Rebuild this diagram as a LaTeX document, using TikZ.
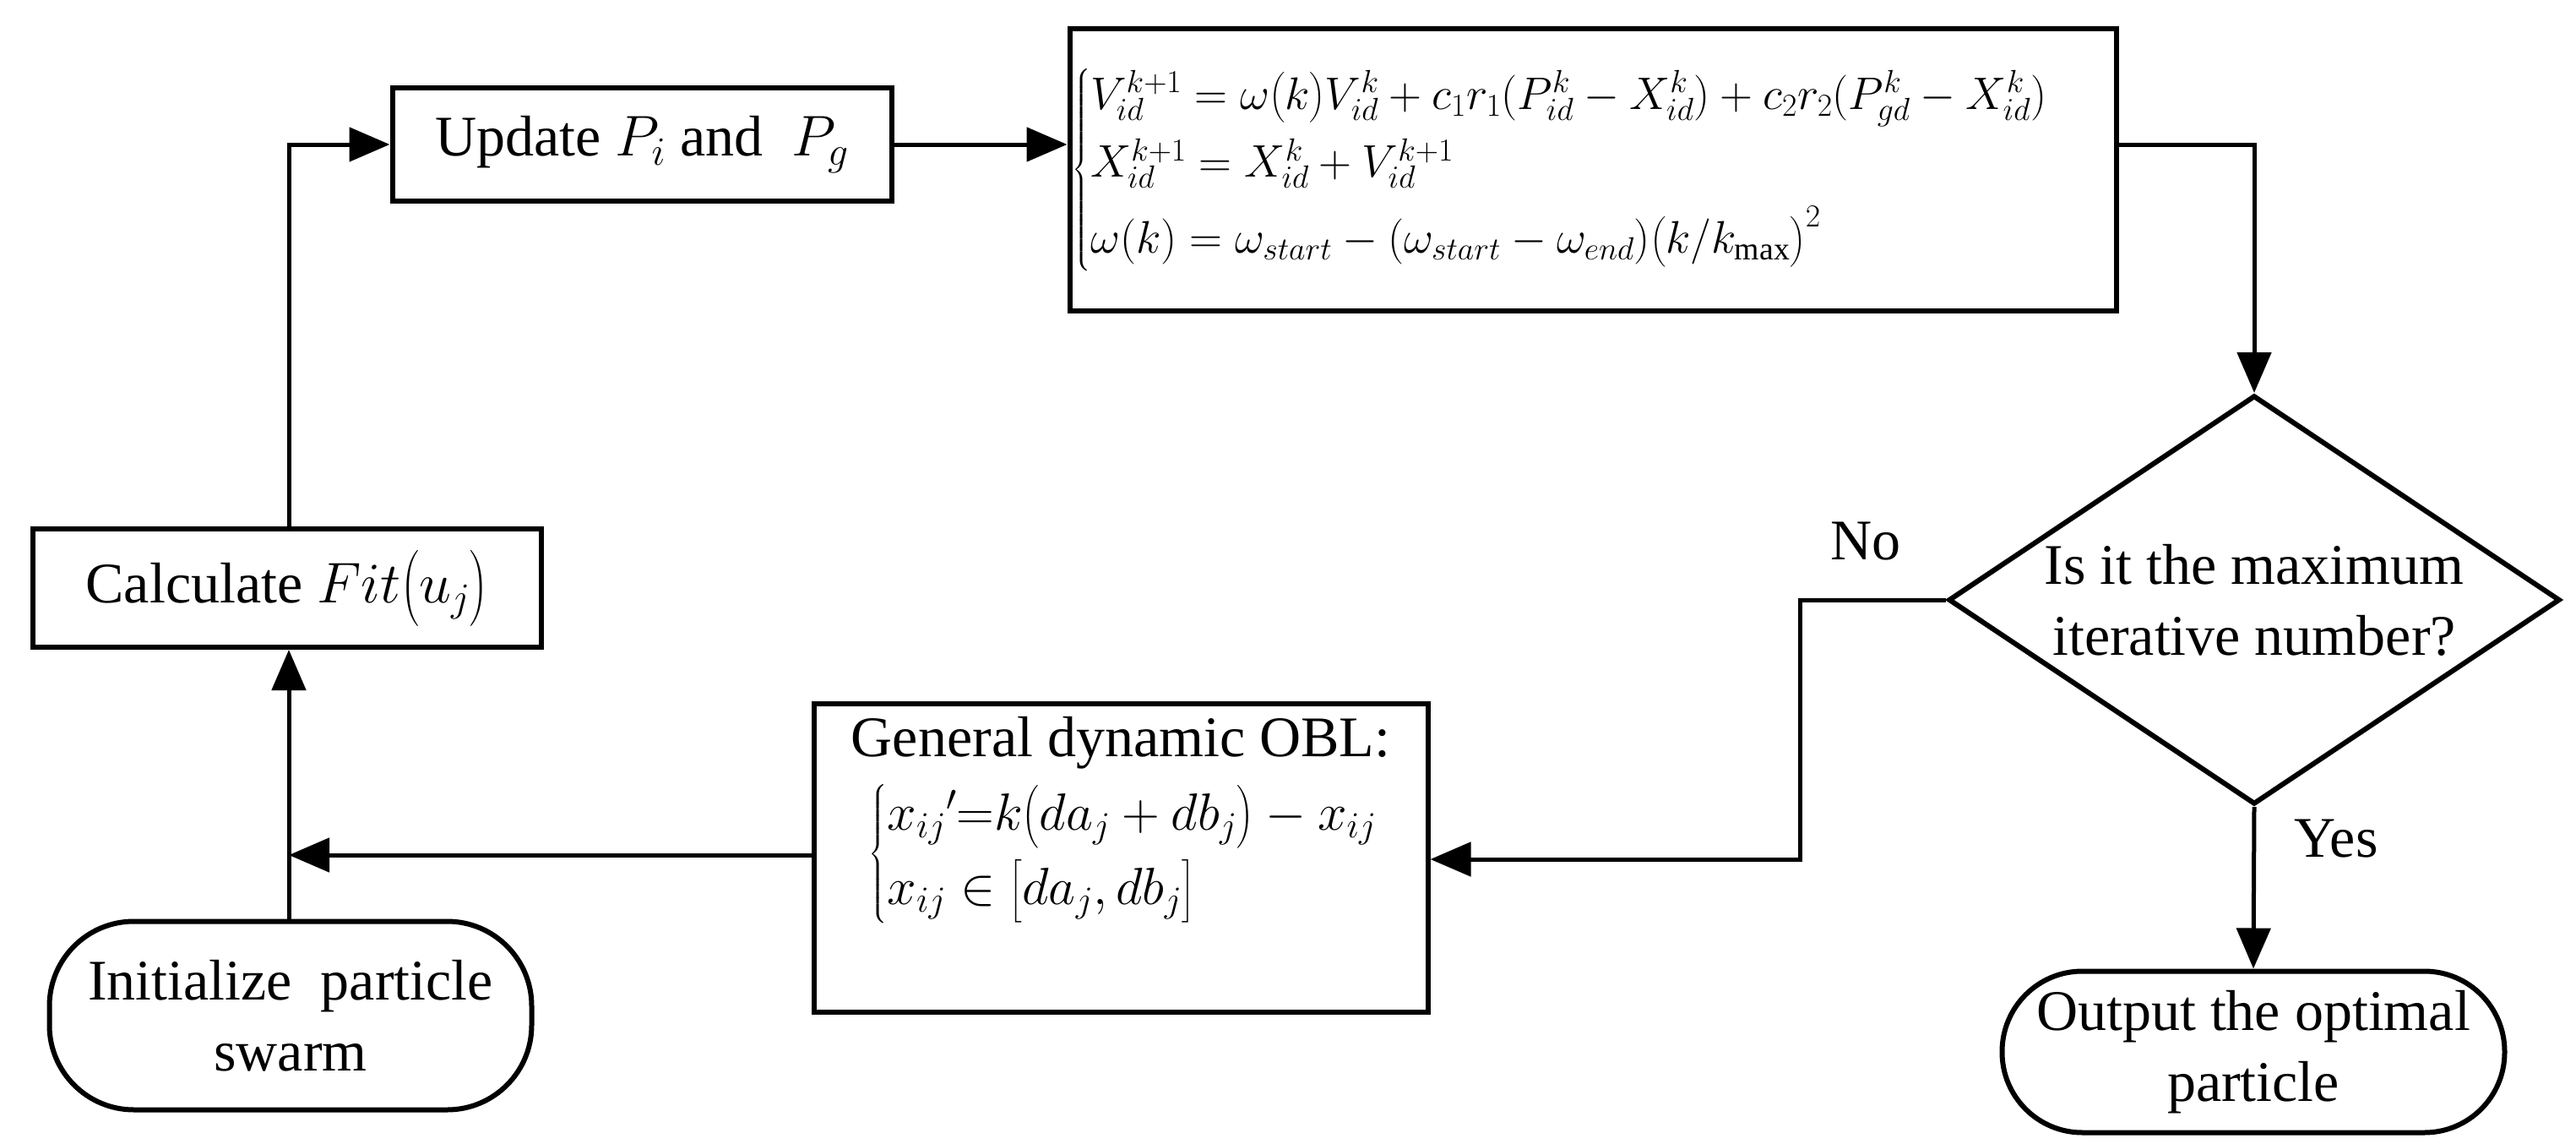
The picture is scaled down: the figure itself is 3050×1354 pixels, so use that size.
\RequirePackage{fix-cm}
\documentclass[tikz,border=0pt]{standalone}
\usepackage{amsmath}
\usepackage{fontspec}
\setmainfont{Liberation Serif}
\usetikzlibrary{arrows.meta,shapes.geometric}
\begin{document}
\begin{tikzpicture}[x=1pt,y=-1pt,
  box/.style={draw,line width=6pt,rectangle,inner sep=0pt,align=center},
  term/.style={box,rounded corners=95pt},
  arr/.style={line width=5pt,-{Triangle[length=48pt,width=40pt]}},
  txt/.style={font=\fontsize{68}{84}\selectfont}]
\useasboundingbox (0,0) rectangle (3050,1354);
\node[box,txt,minimum width=591pt,minimum height=134pt] (up) at (760,171) {Update $P_i$ and\ \ $P_g$};
\node[box,minimum width=1239pt,minimum height=333pt] (eq) at (1886,201) {};
\node[anchor=west,font=\fontsize{54}{62}\selectfont] at ([xshift=2pt]eq.west) {$\left\{\begin{array}{@{}l@{}}
V_{id}^{k+1}=\omega\bigl(k\bigr)V_{id}^{k}+c_1r_1(P_{id}^k-X_{id}^k)+c_2r_2(P_{gd}^k-X_{id}^k)\\[16pt]
X_{id}^{k+1}=X_{id}^{k}+V_{id}^{k+1}\\[16pt]
\omega(k)=\omega_{start}-(\omega_{start}-\omega_{end})\bigl(k/k_{\max}\bigr)^2
\end{array}\right.$};
\node[draw,line width=6pt,diamond,minimum width=724pt,minimum height=484pt,inner sep=0pt] (dia) at (2669,710) {};
\node[txt,align=center] at (dia) {Is it the maximum\\iterative number?};
\node[term,txt,minimum width=595pt,minimum height=191pt] (out) at (2668,1245) {Output the optimal\\particle};
\node[box,minimum width=727pt,minimum height=365pt] (obl) at (1327,1015) {};
\node[txt,anchor=north] (oblt) at (1327,845) {General dynamic OBL:};
\node[anchor=north west,font=\fontsize{62}{70}\selectfont] at (1025,925) {$\left\{\begin{array}{@{}l@{}}
x_{ij}{}'{=}k\bigl(da_j+db_j\bigr)-x_{ij}\\[14pt]
x_{ij}\in\bigl[da_j,db_j\bigr]
\end{array}\right.$};
\node[box,txt,minimum width=602pt,minimum height=140pt] (calc) at (340,696) {Calculate $Fit\bigl(u_j\bigr)$};
\node[term,txt,minimum width=571pt,minimum height=223pt,rounded corners=100pt] (init) at (344,1202) {Initialize\ \ particle\\swarm};
\coordinate (j) at (342,1012);
\draw[arr] (init.north -| j) -- (calc.south -| j);
\draw[arr] (calc.north -| j) |- (up.west);
\draw[arr] (up.east) -- (up.east -| eq.west);
\draw[arr] (up.east -| eq.east) -| (dia.north);
\draw[arr] (dia.west) -| (2131,1017) -- (obl.east |- 0,1017);
\draw[arr] (obl.west |- j) -- (j);
\draw[arr] (dia.south) -- (out.north);
\node[txt] at (2209,641) {No};
\node[txt] at (2766,993) {Yes};
\end{tikzpicture}
\end{document}
